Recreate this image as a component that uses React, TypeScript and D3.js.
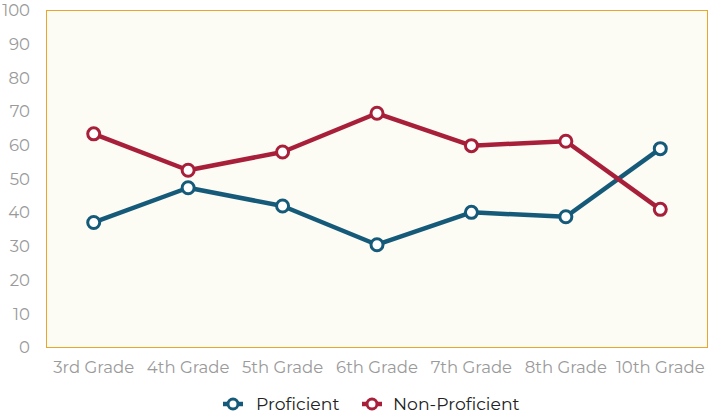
import React from "react";
import * as d3 from "d3";

const categories = ["3rd Grade", "4th Grade", "5th Grade", "6th Grade", "7th Grade", "8th Grade", "10th Grade"];
const proficient = [37.1, 47.4, 42.0, 30.5, 40.1, 38.8, 59.0];
const nonProficient = [63.4, 52.6, 58.0, 69.5, 59.9, 61.2, 41.0];
const yTicks = [0, 10, 20, 30, 40, 50, 60, 70, 80, 90, 100];

const W = 715, H = 414;
const left = 46.5, right = 707.5, top = 10.5, bottom = 347.5;
const font = "Montserrat, 'Open Sans', 'Noto Sans', sans-serif";

const series = [
  { name: "Proficient", values: proficient, color: "#165a7a" },
  { name: "Non-Proficient", values: nonProficient, color: "#a81f3a" },
];

export default function App() {
  const x = d3.scaleBand<string>().domain(categories).range([left, right]);
  const y = d3.scaleLinear().domain([0, 100]).range([bottom, top]);
  const cx = (c: string) => (x(c) ?? 0) + x.bandwidth() / 2;
  const line = d3.line<number>().x((_, i) => cx(categories[i])).y((d) => y(d));

  const legendItems = [
    { s: series[0], mx: 233, tx: 256 },
    { s: series[1], mx: 372, tx: 393 },
  ];

  return (
    <svg width={W} height={H} style={{ position: "absolute", left: 0, top: 0 }} fontFamily={font}>
      <rect x={left} y={top} width={right - left} height={bottom - top} fill="#fcfbf4" stroke="#e8a72a" strokeWidth={1} />
      {yTicks.map((t) => (
        <text key={t} x={30} y={y(t)} dy="0.35em" textAnchor="end" fontSize={16.5} fill="#9a9a9a">
          {t}
        </text>
      ))}
      {categories.map((c) => (
        <text key={c} x={cx(c)} y={373} textAnchor="middle" fontSize={16.5} fill="#9a9a9a">
          {c}
        </text>
      ))}
      {series.map((s) => (
        <g key={s.name}>
          <path d={line(s.values) ?? ""} fill="none" stroke={s.color} strokeWidth={4.5} strokeLinejoin="round" />
          {s.values.map((v, i) => (
            <circle key={i} cx={cx(categories[i])} cy={y(v)} r={6} fill="#fff" stroke={s.color} strokeWidth={3} />
          ))}
        </g>
      ))}
      {legendItems.map(({ s, mx, tx }) => (
        <g key={s.name}>
          <line x1={mx - 10} x2={mx + 10} y1={404} y2={404} stroke={s.color} strokeWidth={4.5} />
          <circle cx={mx} cy={404} r={5} fill="#fff" stroke={s.color} strokeWidth={3} />
          <text x={tx} y={404} dy="0.35em" fontSize={17.3} fill="#222">
            {s.name}
          </text>
        </g>
      ))}
    </svg>
  );
}
